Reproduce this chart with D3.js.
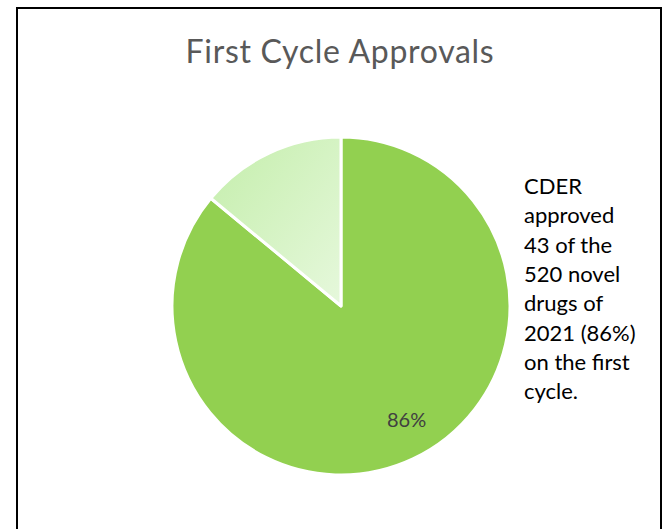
<!DOCTYPE html>
<html>
<head>
<meta charset="utf-8">
<script src="https://cdn.jsdelivr.net/npm/d3@7"></script>
<style>
  body { margin: 0; background: #fff; }
  svg { display: block; }
</style>
</head>
<body>
<svg width="668" height="529"></svg>
<script>

const categories = ["First cycle", "Other"];
const values = [86, 14];
const sliceLabels = ["86%", ""];
const title = "First Cycle Approvals";
const noteLines = ["CDER", "approved", "43 of the", "520 novel", "drugs of", "2021 (86%)", "on the first", "cycle."];

const svg = d3.select("svg");

// frame
svg.append("rect")
  .attr("x", 17).attr("y", 8)
  .attr("width", 644).attr("height", 540)
  .style("fill", "#fff")
  .style("stroke", "#000")
  .style("stroke-width", 2)

// gradient for the small slice
const defs = svg.append("defs");
const grad = defs.append("linearGradient")
  .attr("id", "light")
  .attr("x1", "0%").attr("y1", "0%")
  .attr("x2", "100%").attr("y2", "100%");
grad.append("stop").attr("offset", "0%").attr("stop-color", "#c4eeab");
grad.append("stop").attr("offset", "100%").attr("stop-color", "#e6f8dc");

svg.append("text")
  .attr("x", 340).attr("y", 63)
  .attr("text-anchor", "middle")
  .style("font-family", "Lato, 'Open Sans', sans-serif")
  .style("font-size", "32px")
  .style("letter-spacing", "0.7px")
  .style("fill", "#595959")
  .text(title)

const cx = 341, cy = 306, r = 169;

const pie = d3.pie().sort(null).value(d => d)(values);
const arc = d3.arc().innerRadius(0).outerRadius(r);
const color = d3.scaleOrdinal().domain(categories).range(["#92d050", "url(#light)"]);

const g = svg.append("g").attr("transform", `translate(${cx},${cy})`);

g.selectAll(".slice").data(pie)
  .enter().append("path")
    .attr("class", "slice")
    .attr("d", arc)
    .style("fill", (d, i) => color(categories[i]))
    .style("stroke", "#fff")
    .style("stroke-width", 3)
    .style("stroke-linejoin", "round")

// label inside the big slice, near the centroid at 0.8r
const labelArc = d3.arc().innerRadius(r * 0.8).outerRadius(r * 0.8);
g.selectAll(".lbl").data(pie.filter(d => sliceLabels[d.index]))
  .enter().append("text")
    .attr("class", "lbl")
    .attr("transform", d => {
      const [lx, ly] = labelArc.centroid(d);
      return `translate(${lx + 8},${ly - 1})`
    })
    .attr("text-anchor", "middle")
    .style("font-family", "Lato, 'Open Sans', sans-serif")
    .style("font-size", "20px")
    .style("fill", "#404040")
    .text(d => sliceLabels[d.index])

// side note
svg.selectAll(".note").data(noteLines)
  .enter().append("text")
    .attr("class", "note")
    .attr("x", 524)
    .attr("y", (d, i) => 194 + i * 29.3)
    .style("font-family", "Lato, 'Open Sans', sans-serif")
    .style("font-size", "22px")
    .style("fill", "#000")
    .text(d => d)

</script>
</body>
</html>
